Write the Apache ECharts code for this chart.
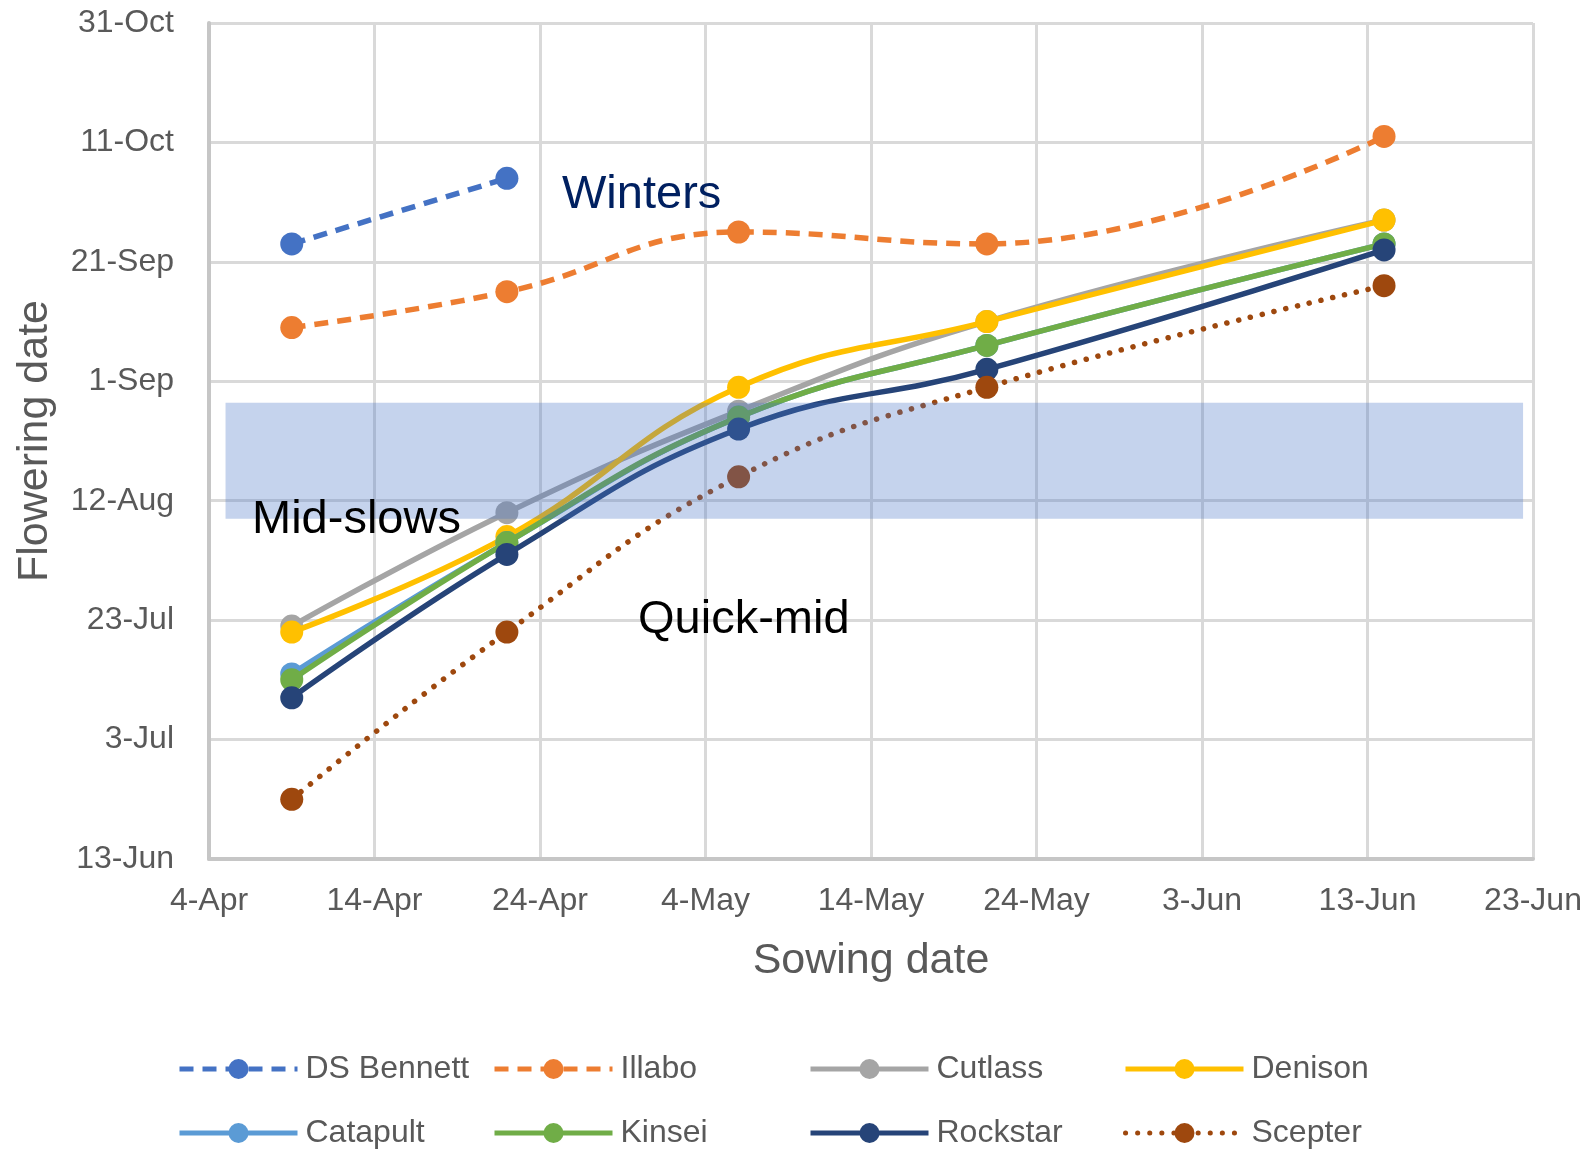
<!DOCTYPE html>
<html>
<head>
<meta charset="utf-8">
<script src="https://cdn.jsdelivr.net/npm/echarts@6/dist/echarts.min.js"></script>
<style>
html,body{margin:0;padding:0;background:#fff;}
#chart{width:1593px;height:1151px;}
</style>
</head>
<body>
<div id="chart"></div>
<script>
// ---- data (day-month) ----
const sowingDates = ['9-Apr', '22-Apr', '6-May', '21-May', '14-Jun'];
const xAxisRange = ['4-Apr', '23-Jun'];
const yAxisRange = ['13-Jun', '31-Oct'];
const seriesNames = ['DS Bennett', 'Illabo', 'Cutlass', 'Denison', 'Catapult', 'Kinsei', 'Rockstar', 'Scepter'];
const dsBennett = ['24-Sep', '5-Oct'];
const illabo = ['10-Sep', '16-Sep', '26-Sep', '24-Sep', '12-Oct'];
const cutlass = ['22-Jul', '10-Aug', '27-Aug', '11-Sep', '28-Sep'];
const denison = ['21-Jul', '6-Aug', '31-Aug', '11-Sep', '28-Sep'];
const catapult = ['14-Jul', '5-Aug', '26-Aug', '7-Sep', '24-Sep'];
const kinsei = ['13-Jul', '5-Aug', '26-Aug', '7-Sep', '24-Sep'];
const rockstar = ['10-Jul', '3-Aug', '24-Aug', '3-Sep', '23-Sep'];
const scepter = ['23-Jun', '21-Jul', '16-Aug', '31-Aug', '17-Sep'];
const bandSowing = ['5-Apr', '22.4-Jun'];
const bandFlowering = ['9-Aug', '28.4-Aug'];
const annotations = ['Winters', 'Mid-slows', 'Quick-mid'];

// ---- helpers ----
const MONTHS = ['Jan','Feb','Mar','Apr','May','Jun','Jul','Aug','Sep','Oct','Nov','Dec'];
const YEAR = 2021;
function dayNum(s) {
  const parts = s.split('-');
  return Date.UTC(YEAR, MONTHS.indexOf(parts[1]), 1) / 864e5 + parseFloat(parts[0]) - 1;
}
const xOrigin = dayNum(xAxisRange[0]);
const yOrigin = dayNum(yAxisRange[0]);
const toX = s => dayNum(s) - xOrigin;
const toY = s => dayNum(s) - yOrigin;
function fmt(origin) {
  return v => {
    const dt = new Date((origin + v) * 864e5);
    return dt.getUTCDate() + '-' + MONTHS[dt.getUTCMonth()];
  };
}

const FONT = '"Liberation Sans", Arial, Helvetica, sans-serif';
const GREY = '#595959';

const seriesValues = [dsBennett, illabo, cutlass, denison, catapult, kinsei, rockstar, scepter];
const colors = ['#4472C4', '#ED7D31', '#A5A5A5', '#FFC000', '#5B9BD5', '#70AD47', '#264478', '#9E480E'];
const dashType = [[14, 9], [14, 9], 'solid', 'solid', 'solid', 'solid', 'solid', [0.1, 12]];

const series = seriesNames.map((name, k) => ({
  name: name,
  type: 'line',
  smooth: 0.45,
  symbol: 'circle',
  symbolSize: 23,
  showSymbol: true,
  data: seriesValues[k].map((v, i) => [toX(sowingDates[i]), toY(v)]),
  lineStyle: { color: colors[k], width: 5.5, type: dashType[k], cap: k === 7 ? 'round' : 'butt' },
  itemStyle: { color: colors[k], borderWidth: 0 },
  emphasis: { disabled: true },
  z: 2 + k * 0.01
}));

// band overlay drawn on top of the lines
series.push({
  name: 'band',
  type: 'line',
  data: [],
  markArea: {
    silent: true,
    z: 20,
    itemStyle: { color: 'rgba(68,114,196,0.31)' },
    data: [[
      { coord: [toX(bandSowing[0]), toY(bandFlowering[1])] },
      { coord: [toX(bandSowing[1]), toY(bandFlowering[0])] }
    ]]
  }
});

const legendCols = [
  { left: 177, data: ['DS Bennett', 'Catapult'] },
  { left: 492, data: ['Illabo', 'Kinsei'] },
  { left: 808, data: ['Cutlass', 'Rockstar'] },
  { left: 1123, data: ['Denison', 'Scepter'] }
];

const chart = echarts.init(document.getElementById('chart'), null, { renderer: 'canvas' });
chart.setOption({
  animation: false,
  backgroundColor: '#fff',
  textStyle: { fontFamily: FONT },
  grid: { left: 209, right: 60, top: 23, bottom: 292, containLabel: false },
  xAxis: {
    type: 'value',
    min: 0,
    max: toX(xAxisRange[1]),
    interval: 10,
    name: 'Sowing date',
    nameLocation: 'middle',
    nameGap: 81,
    nameTextStyle: { color: GREY, fontSize: 43, fontFamily: FONT },
    axisLine: { show: true, lineStyle: { color: '#c6c6c6', width: 4 } },
    axisTick: { show: false },
    axisLabel: { color: GREY, fontSize: 32, fontFamily: FONT, margin: 26, formatter: fmt(xOrigin) },
    splitLine: { show: true, lineStyle: { color: '#d9d9d9', width: 3 } }
  },
  yAxis: {
    type: 'value',
    min: 0,
    max: toY(yAxisRange[1]),
    interval: 20,
    name: 'Flowering date',
    nameLocation: 'middle',
    nameGap: 152,
    nameTextStyle: { color: GREY, fontSize: 43, fontFamily: FONT },
    axisLine: { show: true, lineStyle: { color: '#c6c6c6', width: 4 } },
    axisTick: { show: false },
    axisLabel: { color: GREY, fontSize: 32, fontFamily: FONT, margin: 35, formatter: fmt(yOrigin) },
    splitLine: { show: true, lineStyle: { color: '#d9d9d9', width: 3 } }
  },
  legend: legendCols.map(c => ({
    left: c.left,
    top: 1052,
    orient: 'vertical',
    padding: 0,
    itemWidth: 118,
    itemHeight: 25,
    itemGap: 30,
    data: c.data,
    lineStyle: { width: 5 },
    textStyle: { color: GREY, fontSize: 32, fontFamily: FONT, lineHeight: 34, padding: [0, 0, 0, 3] },
    selectedMode: false
  })),
  graphic: [
    { type: 'text', x: 562, y: 195, z: 100, style: { text: annotations[0], font: '47px ' + FONT, fill: '#002060', verticalAlign: 'middle' } },
    { type: 'text', x: 252, y: 520, z: 100, style: { text: annotations[1], font: '47px ' + FONT, fill: '#000', verticalAlign: 'middle' } },
    { type: 'text', x: 638, y: 620, z: 100, style: { text: annotations[2], font: '47px ' + FONT, fill: '#000', verticalAlign: 'middle' } }
  ],
  series: series
});
</script>
</body>
</html>
